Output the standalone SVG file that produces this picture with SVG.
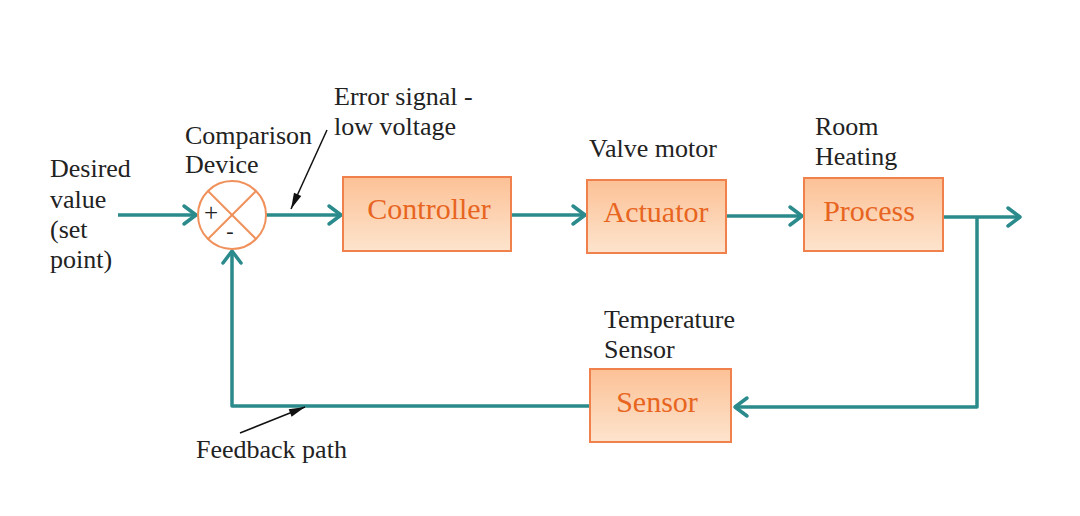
<svg xmlns="http://www.w3.org/2000/svg" width="1080" height="516" viewBox="0 0 1080 516">
<style>
.box{fill:url(#boxg);stroke:#f0814d;stroke-width:2}
.bl{font-family:"Liberation Serif",serif;font-size:30px;fill:#e8651f;text-anchor:middle}
.t{font-family:"Liberation Serif",serif;font-size:26px;fill:#222}
.w{fill:none;stroke:#2b8a8b;stroke-width:3.5;stroke-linejoin:round}
.ann{fill:none;stroke:#111;stroke-width:1.5}
</style>
<defs>
<linearGradient id="boxg" x1="0" y1="0" x2="0" y2="1">
<stop offset="0" stop-color="#fcc196"/>
<stop offset="1" stop-color="#fde4cd"/>
</linearGradient>
<marker id="ch" markerUnits="userSpaceOnUse" markerWidth="20" markerHeight="24" refX="14" refY="10" orient="auto" overflow="visible">
<path d="M2,1 L14,10 L2,19" fill="none" stroke="#2b8a8b" stroke-width="3.5" stroke-linecap="round" stroke-linejoin="round"/>
</marker>
<marker id="bk" markerUnits="userSpaceOnUse" markerWidth="20" markerHeight="12" refX="16" refY="5" orient="auto" overflow="visible">
<path d="M0,1 L16,5 L0,9 Z" fill="#111"/>
</marker>
</defs>

<g id="connectors">
<line class="w" x1="118" y1="215" x2="196" y2="215" marker-end="url(#ch)"/>
<line class="w" x1="266" y1="215" x2="341" y2="215" marker-end="url(#ch)"/>
<line class="w" x1="511" y1="215" x2="585" y2="215" marker-end="url(#ch)"/>
<line class="w" x1="726" y1="216" x2="802" y2="216" marker-end="url(#ch)"/>
<line class="w" x1="943" y1="217" x2="1020" y2="217" marker-end="url(#ch)"/>
<polyline class="w" points="977,217 977,407 735,407" marker-end="url(#ch)"/>
<polyline class="w" points="590,406 232,406 232,251" marker-end="url(#ch)"/>
<line class="ann" x1="327" y1="130" x2="291" y2="209" marker-end="url(#bk)"/>
<line class="ann" x1="240" y1="433" x2="305" y2="407" marker-end="url(#bk)"/>
</g>

<g id="comparison">
<circle cx="232" cy="215" r="34" fill="#fff" stroke="#f0905a" stroke-width="2"/>
<line x1="208" y1="191" x2="256" y2="239" stroke="#f0905a" stroke-width="2"/>
<line x1="256" y1="191" x2="208" y2="239" stroke="#f0905a" stroke-width="2"/>
<text x="211" y="221" class="t" style="font-size:25px" text-anchor="middle">+</text>
<text x="230" y="238" class="t" style="font-size:22px" text-anchor="middle">-</text>
</g>

<g id="controller">
<rect class="box" x="343" y="177" width="168" height="74"/>
<text class="bl" x="429" y="219">Controller</text>
</g>
<g id="actuator">
<rect class="box" x="587" y="180" width="139" height="73"/>
<text class="bl" x="656" y="222">Actuator</text>
</g>
<g id="process">
<rect class="box" x="804" y="178" width="139" height="73"/>
<text class="bl" x="869" y="221">Process</text>
</g>
<g id="sensor">
<rect class="box" x="590" y="369" width="141" height="73"/>
<text class="bl" x="657" y="412">Sensor</text>
</g>

<g id="labels">
<text class="t" x="50" y="177">Desired</text>
<text class="t" x="50" y="208">value</text>
<text class="t" x="50" y="238">(set</text>
<text class="t" x="50" y="268">point)</text>
<text class="t" x="185" y="144">Comparison</text>
<text class="t" x="185" y="173">Device</text>
<text class="t" x="334" y="105">Error signal -</text>
<text class="t" x="334" y="135">low voltage</text>
<text class="t" x="589" y="157">Valve motor</text>
<text class="t" x="815" y="135">Room</text>
<text class="t" x="815" y="165">Heating</text>
<text class="t" x="604" y="328">Temperature</text>
<text class="t" x="604" y="358">Sensor</text>
<text class="t" x="196" y="458">Feedback path</text>
</g>
</svg>
